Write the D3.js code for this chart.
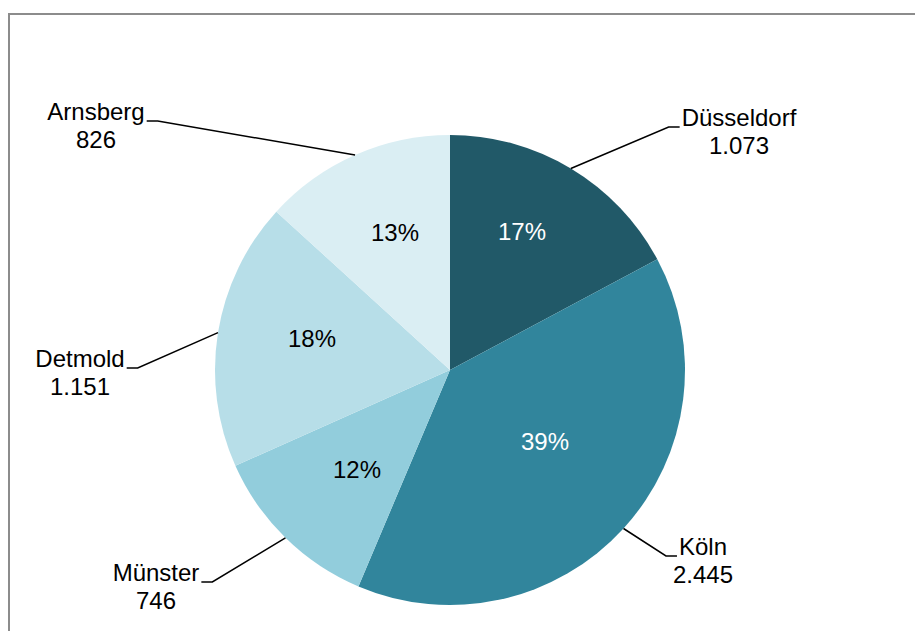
<!DOCTYPE html>
<html>
<head>
<meta charset="utf-8">
<script src="https://cdn.jsdelivr.net/npm/d3@7/dist/d3.min.js"></script>
<style>
  html, body { margin: 0; padding: 0; background: #fff; }
  svg { display: block; font-family: "Liberation Sans", Arial, sans-serif; }
</style>
</head>
<body>
<svg id="chart" width="915" height="631"></svg>
<script>
// Regierungsbezirke and their counts, clockwise from 12 o'clock
const categories = ["Düsseldorf", "Köln", "Münster", "Detmold", "Arnsberg"];
const values = [1073, 2445, 746, 1151, 826];
const valueLabels = ["1.073", "2.445", "746", "1.151", "826"];
const colors = ["#215968", "#31859C", "#92CDDC", "#B7DEE8", "#DAEEF3"];
const percentTextColors = ["#ffffff", "#ffffff", "#000000", "#000000", "#000000"];

const W = 915, H = 631;
const cx = 450, cy = 370, R = 235;
const fontSize = 24, lineGap = 27.6;

// Placement of the callouts (name + value) relative to the pie centre:
// x = centre of the text block, y = baseline of the first line, side = which way the leader runs
const calloutLayout = {
  "Düsseldorf": { x: 289, y: -244, side: "left" },
  "Köln":       { x: 253, y: 185,  side: "left" },
  "Münster":    { x: -294, y: 211, side: "right" },
  "Detmold":    { x: -370, y: -3,  side: "right" },
  "Arnsberg":   { x: -354, y: -250, side: "right" }
};
// Placement of the percentage labels inside the slices, relative to the pie centre
const percentLayout = {
  "Düsseldorf": { x: 72, y: -139 },
  "Köln":       { x: 95, y: 71 },
  "Münster":    { x: -93, y: 99 },
  "Detmold":    { x: -138, y: -32 },
  "Arnsberg":   { x: -55, y: -138 }
};

const svg = d3.select("#chart");

// chart frame
svg.append("rect")
  .attr("x", 9).attr("y", 14)
  .attr("width", 1000).attr("height", 1000)
  .attr("fill", "#fff")
  .attr("stroke", "#8c8c8c")
  .attr("stroke-width", 2);

const data = categories.map((c, i) => ({ name: c, value: values[i], label: valueLabels[i], i }));
const total = d3.sum(values);

const pie = d3.pie().sort(null).value(d => d.value);
const arcs = pie(data);
const arc = d3.arc().innerRadius(0).outerRadius(R);
const edge = d3.arc().innerRadius(R).outerRadius(R);

const g = svg.append("g").attr("transform", `translate(${cx},${cy})`);

g.selectAll("path.slice")
  .data(arcs)
  .join("path")
  .attr("class", "slice")
  .attr("d", arc)
  .attr("fill", d => colors[d.data.i]);

// percentage labels
const fmtPct = v => Math.round(v / total * 100) + "%";
g.selectAll("text.pct")
  .data(arcs)
  .join("text")
  .attr("class", "pct")
  .attr("x", d => percentLayout[d.data.name].x)
  .attr("y", d => percentLayout[d.data.name].y)
  .attr("text-anchor", "middle")
  .attr("dominant-baseline", "central")
  .attr("font-size", fontSize)
  .attr("fill", d => percentTextColors[d.data.i])
  .text(d => fmtPct(d.data.value));

// callouts with leader lines
const callouts = g.selectAll("g.callout")
  .data(arcs)
  .join("g")
  .attr("class", "callout");

callouts.each(function (d) {
  const sel = d3.select(this);
  const L = calloutLayout[d.data.name];
  const t = sel.append("text")
    .attr("x", L.x).attr("y", L.y)
    .attr("text-anchor", "middle")
    .attr("font-size", fontSize)
    .attr("fill", "#000");
  t.append("tspan").attr("x", L.x).attr("dy", 0).text(d.data.name);
  t.append("tspan").attr("x", L.x).attr("dy", lineGap).text(d.data.label);

  // width of the first line decides where the stub starts
  const firstLine = t.select("tspan").node();
  const w = firstLine.getComputedTextLength();
  const sy = L.y + 1;
  const stubStart = L.side === "right" ? L.x + w / 2 + 2 : L.x - w / 2 - 2;
  const stubEnd = L.side === "right" ? stubStart + 11 : stubStart - 11;
  const [ex, ey] = edge.centroid(d);

  sel.insert("path", "text")
    .attr("d", `M${stubStart},${sy}H${stubEnd}L${ex},${ey}`)
    .attr("fill", "none")
    .attr("stroke", "#000")
    .attr("stroke-width", 1.5);
});
</script>
</body>
</html>
